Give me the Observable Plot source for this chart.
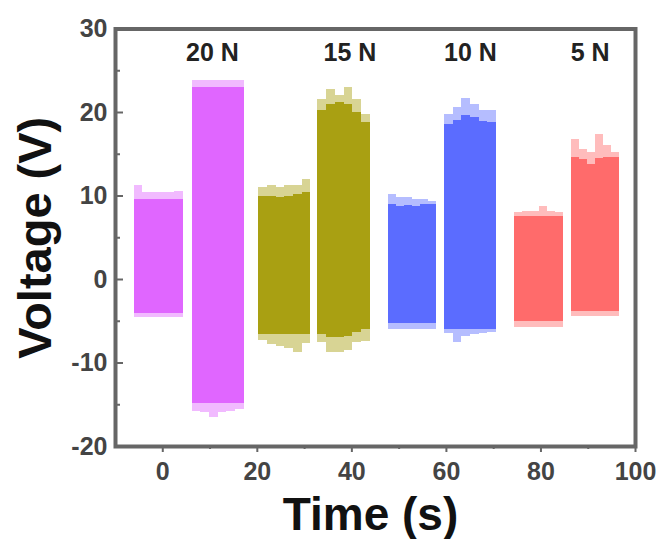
<!DOCTYPE html>
<html>
<head>
<meta charset="utf-8">
<script src="https://cdn.jsdelivr.net/npm/d3@7"></script>
<script src="https://cdn.jsdelivr.net/npm/@observablehq/plot@0.6"></script>
<style>
  html, body { margin: 0; padding: 0; background: #fff; }
</style>
</head>
<body>
<div id="chart"></div>
<script>
// ---- data ----
const forceLabels = ["20 N", "15 N", "10 N", "5 N"];
const labelX = [10.5, 39.6, 65.1, 90.4];
const labelY = 27.1;
const groupColors = ["#e066ff", "#a9a012", "#5b6cff", "#ff6b6b"];

// each burst of signal: start/end time (s) and the force group it belongs to
const burstStart = [-6.0, 6.2, 20.3, 32.7, 47.7, 59.6, 74.5, 86.4];
const burstEnd   = [4.3, 17.2, 31.3, 44.0, 57.9, 70.6, 84.7, 96.6];
const burstGroup = [0, 0, 1, 1, 2, 2, 3, 3];

// envelope (peak) and dense core voltages, 6 slices per burst
const peakTop = [
  [11.3, 10.4, 10.4, 10.4, 10.4, 10.5],
  [23.8, 23.8, 23.8, 23.8, 23.8, 23.8],
  [11.0, 11.2, 11.0, 11.2, 11.3, 12.0],
  [21.6, 22.8, 22.0, 23.0, 21.5, 19.8],
  [10.2, 9.8, 9.8, 9.6, 9.6, 9.4],
  [19.8, 20.6, 21.7, 21.0, 20.2, 20.2],
  [8.0, 8.2, 8.2, 8.8, 8.2, 8.0],
  [16.8, 15.6, 15.2, 17.4, 16.0, 15.2]
];
const coreTop = [
  [9.6, 9.6, 9.6, 9.6, 9.6, 9.6],
  [23.0, 23.0, 23.0, 23.0, 23.0, 23.0],
  [10.0, 10.0, 9.8, 10.0, 10.2, 10.4],
  [20.2, 21.0, 21.2, 21.0, 20.0, 18.8],
  [9.0, 8.8, 8.9, 8.8, 9.0, 9.0],
  [18.6, 19.0, 19.6, 19.4, 18.9, 18.8],
  [7.6, 7.6, 7.6, 7.6, 7.6, 7.6],
  [14.6, 14.4, 13.8, 14.5, 14.6, 14.6]
];
const coreBottom = [
  [-4.1, -4.1, -4.1, -4.1, -4.1, -4.1],
  [-14.8, -14.8, -14.8, -14.8, -14.8, -14.8],
  [-6.6, -6.6, -6.6, -6.6, -6.6, -6.6],
  [-6.6, -7.0, -7.0, -6.8, -6.3, -6.0],
  [-5.3, -5.3, -5.3, -5.3, -5.3, -5.3],
  [-6.0, -6.0, -6.0, -6.0, -6.0, -6.0],
  [-5.0, -5.0, -5.0, -5.0, -5.0, -5.0],
  [-3.8, -3.8, -3.8, -3.8, -3.8, -3.8]
];
const peakBottom = [
  [-4.6, -4.6, -4.6, -4.6, -4.6, -4.6],
  [-15.8, -15.9, -16.5, -15.9, -15.8, -15.6],
  [-7.3, -7.8, -8.0, -8.3, -8.8, -7.7],
  [-7.5, -8.8, -8.7, -8.5, -7.6, -7.4],
  [-6.0, -6.0, -6.0, -6.0, -6.0, -6.0],
  [-6.5, -7.5, -6.8, -6.6, -6.5, -6.4],
  [-5.7, -5.7, -5.7, -5.7, -5.7, -5.7],
  [-4.4, -4.4, -4.4, -4.4, -4.4, -4.4]
];

const xTicks = [0, 20, 40, 60, 80, 100];
const xMinorTicks = [10, 30, 50, 70, 90];
const yTicks = [-20, -10, 0, 10, 20, 30];
const yMinorTicks = [-15, -5, 5, 15, 25];

// ---- build slice rows ----
const envRows = [], coreRows = [];
burstStart.forEach((s, b) => {
  const e = burstEnd[b], n = peakTop[b].length;
  for (let i = 0; i < n; i++) {
    const x1 = s + (e - s) * i / n, x2 = s + (e - s) * (i + 1) / n;
    const color = groupColors[burstGroup[b]];
    envRows.push({x1, x2, y1: peakBottom[b][i], y2: peakTop[b][i], color});
    coreRows.push({x1, x2, y1: coreBottom[b][i], y2: coreTop[b][i], color});
  }
});
const labels = forceLabels.map((t, i) => ({t, x: labelX[i], y: labelY}));

const font = "Arial, 'Liberation Sans', sans-serif";

const chart = Plot.plot({
  width: 659,
  height: 539,
  marginLeft: 115,
  marginRight: 24,
  marginTop: 28.5,
  marginBottom: 93,
  x: {domain: [-10, 100]},
  y: {domain: [-20, 30]},
  style: {fontFamily: font, background: "#fff", color: "#333"},
  marks: [
    Plot.rect(envRows, {x1: "x1", x2: "x2", y1: "y1", y2: "y2", fill: d => d.color, fillOpacity: 0.45, shapeRendering: "crispEdges"}),
    Plot.rect(coreRows, {x1: "x1", x2: "x2", y1: "y1", y2: "y2", fill: d => d.color, shapeRendering: "crispEdges"}),
    Plot.text(labels, {x: "x", y: "y", text: "t", fontSize: 25, fontWeight: "bold", fill: "#222"}),
    // x axis: outward ticks
    Plot.axisX(xTicks, {tickSize: 6, tickPadding: 10, stroke: "#666", strokeWidth: 2, fontSize: 25, fontWeight: "bold", fill: "#444", label: null, tickFormat: d => String(d)}),
    Plot.axisX(xMinorTicks, {tickSize: 3, stroke: "#666", strokeWidth: 2, tickFormat: () => "", label: null}),
    // y axis: inward ticks
    Plot.axisY(yTicks, {tickSize: 8, dx: 8, stroke: "#666", strokeWidth: 2, tickFormat: () => "", label: null}),
    Plot.axisY(yMinorTicks, {tickSize: 5, dx: 5, stroke: "#666", strokeWidth: 2, tickFormat: () => "", label: null}),
    Plot.axisY(yTicks, {tickSize: 0, tickPadding: 8, fontSize: 25, fontWeight: "bold", fill: "#444", label: null, tickFormat: d => String(d)}),
    Plot.frame({stroke: "#666", strokeWidth: 4}),
    Plot.text(["Voltage (V)"], {frameAnchor: "left", textAnchor: "middle", lineAnchor: "middle", rotate: -90, dx: -80, fontSize: 47, fontWeight: "bold", fill: "#111"}),
    Plot.text(["Time (s)"], {frameAnchor: "bottom", textAnchor: "middle", lineAnchor: "middle", dy: 69, dx: -5, fontSize: 46, fontWeight: "bold", fill: "#111"})
  ]
});
document.getElementById("chart").appendChild(chart);
</script>
</body>
</html>
